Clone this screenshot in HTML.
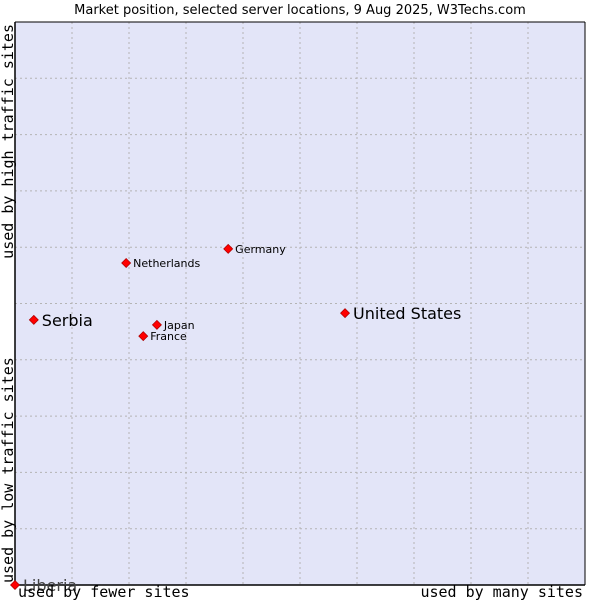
<!DOCTYPE html>
<html><head><meta charset="utf-8"><style>
body{margin:0;background:#fff;width:600px;height:600px;overflow:hidden}
svg{display:block}
</style></head><body>
<svg id="chart" width="600" height="600">
<text x="300" y="14" text-anchor="middle" font-family="DejaVu Sans, sans-serif" font-size="13" fill="#000">Market position, selected server locations, 9 Aug 2025, W3Techs.com</text>
<rect x="15" y="22" width="570" height="563" fill="#e3e5f8"/>
<g id="grid"></g>
<line x1="15" y1="22" x2="15" y2="585" stroke="#000" stroke-width="1.5"/>
<line x1="15" y1="585" x2="585" y2="585" stroke="#000" stroke-width="1.5"/>
<line x1="585" y1="22" x2="585" y2="585" stroke="#000" stroke-width="1"/>
<line x1="15" y1="22" x2="585" y2="22" stroke="#000" stroke-width="1"/>
<g id="points"></g>
<text x="18" y="597" font-family="DejaVu Sans Mono, monospace" font-size="15">used by fewer sites</text>
<text x="583" y="597" text-anchor="end" font-family="DejaVu Sans Mono, monospace" font-size="15">used by many sites</text>
<text transform="translate(13,24) rotate(-90)" text-anchor="end" font-family="DejaVu Sans Mono, monospace" font-size="15">used by high traffic sites</text>
<text transform="translate(13,583) rotate(-90)" text-anchor="start" font-family="DejaVu Sans Mono, monospace" font-size="15">used by low traffic sites</text>
</svg>
<script>
const names=["Serbia","United States","Netherlands","Germany","Japan","France","Liberia"];
const xValues=[3.3,57.9,19.5,37.4,24.9,22.5,0];
const yValues=[47.1,48.3,57.2,59.7,46.2,44.2,0];
const bigLabel=[true,true,false,false,false,false,true];
const L=15,R=585,T=22,B=585;
const sx=v=>L+v/100*(R-L), sy=v=>B-v/100*(B-T);
const NS="http://www.w3.org/2000/svg";
const grid=document.getElementById('grid');
for(let i=1;i<10;i++){
 const v=document.createElementNS(NS,'line');
 
 
 v.setAttribute('x1',sx(i*10));v.setAttribute('x2',sx(i*10));v.setAttribute('y1',T);v.setAttribute('y2',B);
 v.setAttribute('stroke','#b4b4b4');v.setAttribute('stroke-dasharray','2,3');grid.appendChild(v);
 const h=document.createElementNS(NS,'line');
 
 
 h.setAttribute('y1',sy(i*10));h.setAttribute('y2',sy(i*10));h.setAttribute('x1',L);h.setAttribute('x2',R);
 h.setAttribute('stroke','#b4b4b4');h.setAttribute('stroke-dasharray','2,3');grid.appendChild(h);
}
const pts=document.getElementById('points');
names.forEach((n,i)=>{
 const x=sx(xValues[i]),y=sy(yValues[i]);
 const p=document.createElementNS(NS,'path');
 
 
 p.setAttribute('d',`M${x-4.5},${y} L${x},${y-4.5} L${x+4.5},${y} L${x},${y+4.5} Z`);
 p.setAttribute('fill','#ff0000');p.setAttribute('stroke','#a00');p.setAttribute('stroke-width','0.7');
 pts.appendChild(p);
 const t=document.createElementNS(NS,'text');
 
 
 t.setAttribute('x',x+(bigLabel[i]?8:7));t.setAttribute('y',y+(bigLabel[i]?6:4));
 t.setAttribute('font-family','DejaVu Sans, sans-serif');
 t.setAttribute('font-size',bigLabel[i]?'16':'11');
 t.setAttribute('fill',n==='Liberia'?'#444':'#000');
 t.textContent=n;pts.appendChild(t);
});
</script>
</body></html>
